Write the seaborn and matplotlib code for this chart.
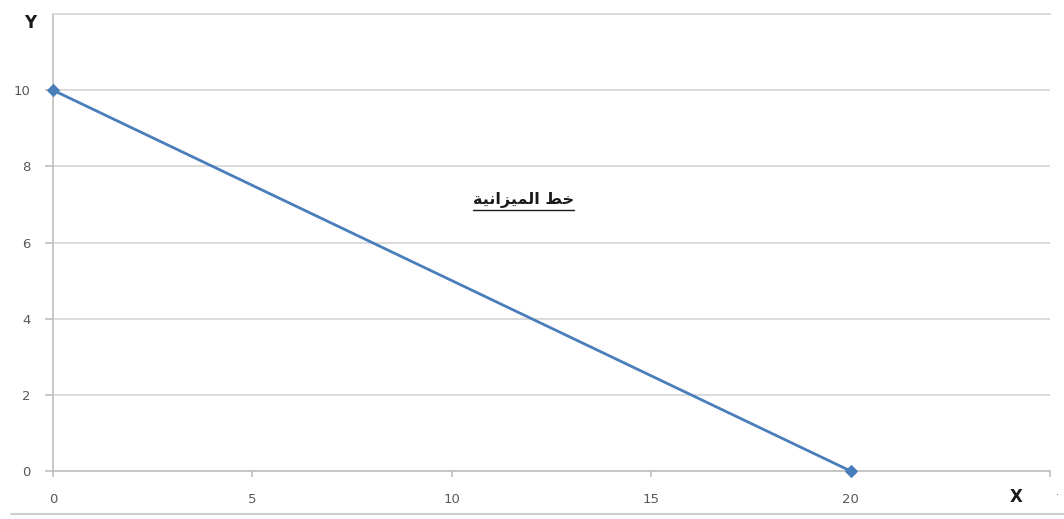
import matplotlib
matplotlib.use("Agg")
import matplotlib.pyplot as plt
import seaborn as sns
import pandas as pd
from matplotlib.lines import Line2D

# Budget line data: all income on X or all on Y
x_values = [0, 20]
y_values = [10, 0]
x_ticks = [0, 5, 10, 15, 20]
y_ticks = [0, 2, 4, 6, 8, 10]
x_limit = 25
y_limit = 12
line_label = "خط الميزانية"
x_axis_name = "X"
y_axis_name = "Y"

# Contextual forms for the Arabic letters used in the label:
# (isolated, final, initial, medial, joins to the following letter)
FORMS = {
    "خ": ("\uFEA5", "\uFEA6", "\uFEA7", "\uFEA8", True),
    "ط": ("\uFEC1", "\uFEC2", "\uFEC3", "\uFEC4", True),
    "ا": ("\uFE8D", "\uFE8E", None, None, False),
    "ل": ("\uFEDD", "\uFEDE", "\uFEDF", "\uFEE0", True),
    "م": ("\uFEE1", "\uFEE2", "\uFEE3", "\uFEE4", True),
    "ي": ("\uFEF1", "\uFEF2", "\uFEF3", "\uFEF4", True),
    "ز": ("\uFEAF", "\uFEB0", None, None, False),
    "ن": ("\uFEE5", "\uFEE6", "\uFEE7", "\uFEE8", True),
    "ة": ("\uFE93", "\uFE94", None, None, False),
}


def shape_arabic(text):
    out = []
    for i, ch in enumerate(text):
        if ch not in FORMS:
            out.append(ch)
            continue
        prev = text[i - 1] if i > 0 else None
        nxt = text[i + 1] if i + 1 < len(text) else None
        join_prev = prev in FORMS and FORMS[prev][4]
        join_next = FORMS[ch][4] and nxt in FORMS
        iso, fin, ini, med, _ = FORMS[ch]
        if join_prev and join_next:
            out.append(med)
        elif join_prev:
            out.append(fin)
        elif join_next:
            out.append(ini)
        else:
            out.append(iso)
    return "".join(out)[::-1]


sns.set_style("white")
plt.rcParams["font.family"] = ["DejaVu Sans"]

df = pd.DataFrame({"x": x_values, "y": y_values})

fig = plt.figure(figsize=(10.64, 5.19), dpi=100)
ax = fig.add_axes([0.0498, 0.0925, 0.937, 0.8805])

blue = "#4a7ebb"
grid_c = "#d4d4d4"
axis_c = "#bfbfbf"
label_c = "#595959"

sns.lineplot(data=df, x="x", y="y", ax=ax, color=blue, linewidth=2.0,
             marker="D", markersize=6, markeredgecolor=blue, clip_on=False,
             zorder=3)

ax.set_xlim(0, x_limit)
ax.set_ylim(0, y_limit)
ax.set_xticks(x_ticks + [x_limit])
ax.set_xticklabels([str(t) for t in x_ticks] + [""])
ax.set_yticks(y_ticks)
ax.set_yticklabels([str(t) for t in y_ticks])

ax.grid(axis="y", color=grid_c, linewidth=1.2)
ax.grid(axis="x", visible=False)
ax.spines["right"].set_visible(False)
# the top edge acts as the last horizontal gridline
ax.spines["top"].set_color(grid_c)
ax.spines["top"].set_linewidth(1.2)
for s in ("left", "bottom"):
    ax.spines[s].set_color(axis_c)
    ax.spines[s].set_linewidth(1.2)

ax.tick_params(axis="x", direction="out", length=4, width=1.2, color=axis_c,
               pad=12, labelsize=9.5, labelcolor=label_c, bottom=True)
ax.tick_params(axis="y", direction="out", length=6, width=1.2, color=axis_c,
               pad=10, labelsize=9.5, labelcolor=label_c, left=True)
ax.set_xlabel("")
ax.set_ylabel("")

# Axis names in bold, placed beside the axis ends
ax.text(-0.023, 0.98, y_axis_name, transform=ax.transAxes, ha="center",
        va="center", fontsize=12, fontweight="bold", color="#1a1a1a")
ax.text(0.9665, -0.057, x_axis_name, transform=ax.transAxes, ha="center",
        va="center", fontsize=12, fontweight="bold", color="#1a1a1a")
ax.text(1.008, -0.057, ".", transform=ax.transAxes, ha="center",
        va="bottom", fontsize=7, color=label_c)

# Underlined caption for the budget line
label = ax.text(11.8, 7.12, shape_arabic(line_label), ha="center",
                va="center", fontsize=11.5, fontweight="bold", color="#1a1a1a")
fig.canvas.draw()
bb = label.get_window_extent(renderer=fig.canvas.get_renderer())
bb = bb.transformed(fig.transFigure.inverted())
fig.add_artist(Line2D([bb.x0, bb.x1], [bb.y0 - 0.004, bb.y0 - 0.004],
                      transform=fig.transFigure, color="#1a1a1a",
                      linewidth=1.0))

# Frame rule under the chart
fig.add_artist(Line2D([0.01, 1.0], [0.01, 0.01], transform=fig.transFigure,
                      color="#cfcfcf", linewidth=1.5))

fig.savefig("out.png", dpi=100)
